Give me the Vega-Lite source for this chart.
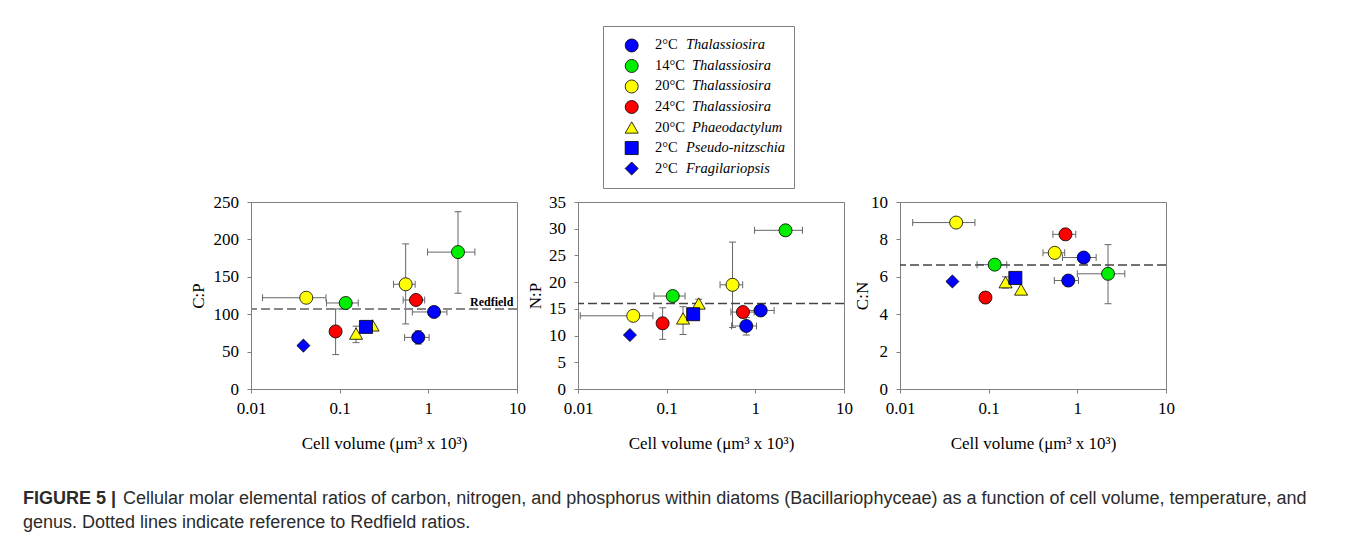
{
  "$schema": "https://vega.github.io/schema/vega-lite/v6.json",
  "background": "white",
  "padding": {"left": 23, "top": 25, "right": 0, "bottom": 0},
  "config": {
    "view": {"stroke": "#808080", "strokeWidth": 1},
    "font": "Liberation Serif",
    "axis": {"grid": false, "labelFlush": false, "domainColor": "#808080", "tickColor": "#808080", "tickSize": 4, "labelFont": "Liberation Serif", "labelFontSize": 17, "labelColor": "#000000", "titleFont": "Liberation Serif", "titleFontSize": 17, "titleFontWeight": "normal", "titleColor": "#000000"},
    "axisX": {"labelPadding": 7.5, "titlePadding": 19},
    "axisY": {"labelPadding": 8.6}
  },
  "datasets": {
    "pts": [
      {"panel":"CP","series":"T2","x":1.16,"y":103,"xlo":0.66,"xhi":1.62},
      {"panel":"CP","series":"T2","x":0.77,"y":69,"xlo":0.54,"xhi":1.02,"ylo":60,"yhi":78},
      {"panel":"CP","series":"T14","x":0.117,"y":115,"xlo":0.071,"xhi":0.162},
      {"panel":"CP","series":"T14","x":2.16,"y":183,"xlo":0.98,"xhi":3.35,"ylo":128,"yhi":237},
      {"panel":"CP","series":"T20","x":0.042,"y":122,"xlo":0.0135,"xhi":0.07},
      {"panel":"CP","series":"T20","x":0.555,"y":140,"xlo":0.405,"xhi":0.71,"ylo":87,"yhi":194},
      {"panel":"CP","series":"T24","x":0.09,"y":77,"ylo":46,"yhi":107},
      {"panel":"CP","series":"T24","x":0.726,"y":119,"xlo":0.52,"xhi":0.91},
      {"panel":"CP","series":"P20","x":0.153,"y":74,"ylo":62,"yhi":84},
      {"panel":"CP","series":"P20","x":0.235,"y":85},
      {"panel":"CP","series":"PN2","x":0.198,"y":83},
      {"panel":"CP","series":"F2","x":0.039,"y":58},
      {"panel":"NP","series":"T2","x":1.15,"y":14.7,"xlo":0.66,"xhi":1.63},
      {"panel":"NP","series":"T2","x":0.79,"y":11.8,"xlo":0.54,"xhi":1.03,"ylo":10.1,"yhi":13.4},
      {"panel":"NP","series":"T14","x":0.117,"y":17.4,"xlo":0.072,"xhi":0.161},
      {"panel":"NP","series":"T14","x":2.19,"y":29.7,"xlo":0.98,"xhi":3.4},
      {"panel":"NP","series":"T20","x":0.042,"y":13.7,"xlo":0.0106,"xhi":0.07},
      {"panel":"NP","series":"T20","x":0.553,"y":19.5,"xlo":0.4,"xhi":0.72,"ylo":11.5,"yhi":27.5},
      {"panel":"NP","series":"T24","x":0.09,"y":12.3,"ylo":9.3,"yhi":15.2},
      {"panel":"NP","series":"T24","x":0.725,"y":14.4,"xlo":0.53,"xhi":0.97},
      {"panel":"NP","series":"P20","x":0.153,"y":13.2,"ylo":10.2,"yhi":15.4},
      {"panel":"NP","series":"P20","x":0.23,"y":16.0,"ylo":15.2,"yhi":16.8},
      {"panel":"NP","series":"PN2","x":0.199,"y":14.0},
      {"panel":"NP","series":"F2","x":0.0385,"y":10.1},
      {"panel":"CN","series":"T2","x":1.18,"y":7.03,"xlo":0.68,"xhi":1.63},
      {"panel":"CN","series":"T2","x":0.79,"y":5.8,"xlo":0.55,"xhi":1.03},
      {"panel":"CN","series":"T14","x":0.117,"y":6.65,"xlo":0.074,"xhi":0.16},
      {"panel":"CN","series":"T14","x":2.22,"y":6.16,"xlo":1.0,"xhi":3.43,"ylo":4.56,"yhi":7.72},
      {"panel":"CN","series":"T20","x":0.043,"y":8.9,"xlo":0.0139,"xhi":0.07},
      {"panel":"CN","series":"T20","x":0.556,"y":7.28,"xlo":0.41,"xhi":0.72},
      {"panel":"CN","series":"T24","x":0.092,"y":4.89},
      {"panel":"CN","series":"T24","x":0.735,"y":8.27,"xlo":0.53,"xhi":0.96},
      {"panel":"CN","series":"P20","x":0.155,"y":5.71,"ylo":5.4,"yhi":6.0},
      {"panel":"CN","series":"P20","x":0.232,"y":5.32},
      {"panel":"CN","series":"PN2","x":0.2,"y":5.94},
      {"panel":"CN","series":"F2","x":0.039,"y":5.75}
    ],
    "redfield": [
      {"panel":"CP","ratio":107,"label":"Redfield"},
      {"panel":"NP","ratio":16},
      {"panel":"CN","ratio":6.63}
    ],
    "legend": [
      {"order":1,"series":"T2","temp":"2°C","genus":"Thalassiosira"},
      {"order":2,"series":"T14","temp":"14°C","genus":"Thalassiosira"},
      {"order":3,"series":"T20","temp":"20°C","genus":"Thalassiosira"},
      {"order":4,"series":"T24","temp":"24°C","genus":"Thalassiosira"},
      {"order":5,"series":"P20","temp":"20°C","genus":"Phaeodactylum"},
      {"order":6,"series":"PN2","temp":"2°C","genus":"Pseudo-nitzschia"},
      {"order":7,"series":"F2","temp":"2°C","genus":"Fragilariopsis"}
    ],
    "caption": [
      {"part":"label","text":"FIGURE 5 |"},
      {"part":"line1","text":"Cellular molar elemental ratios of carbon, nitrogen, and phosphorus within diatoms (Bacillariophyceae) as a function of cell volume, temperature, and"},
      {"part":"line2","text":"genus. Dotted lines indicate reference to Redfield ratios."}
    ]
  },
  "spacing": 3,
  "vconcat": [
    {
      "spacing": 8,
      "hconcat": [
        {"width": 571, "height": 10, "view": {"stroke": null, "fill": "white"}, "data": {"values": []}, "mark": "point"},
        {
          "width": 191, "height": 162,
          "data": {"name": "legend"},
          "encoding": {"y": {"field": "order", "type": "ordinal", "scale": {"type": "point", "padding": 0.95}, "axis": null}},
          "layer": [
            {"mark": {"type": "point", "filled": true, "opacity": 1, "stroke": "#000000", "strokeWidth": 0.8},
             "encoding": {"x": {"value": 28.7},
               "fill": {"field": "series", "type": "nominal", "scale": {"domain": ["T2","T14","T20","T24","P20","PN2","F2"], "range": ["#0000ff","#00ee00","#ffff00","#ff0000","#ffff00","#0000ff","#0000ff"]}, "legend": null},
               "shape": {"field": "series", "type": "nominal", "scale": {"domain": ["T2","T14","T20","T24","P20","PN2","F2"], "range": ["circle","circle","circle","circle","triangle-up","square","diamond"]}, "legend": null},
               "size": {"field": "series", "type": "nominal", "scale": {"domain": ["T2","T14","T20","T24","P20","PN2","F2"], "range": [170,170,170,170,180,150,200]}, "legend": null}}},
            {"mark": {"type": "text", "align": "left", "baseline": "middle", "font": "Liberation Serif", "fontSize": 14.5, "color": "#000000"},
             "encoding": {"x": {"value": 52}, "text": {"field": "temp"}}},
            {"transform": [{"filter": "length(datum.temp) == 3"}],
             "mark": {"type": "text", "align": "left", "baseline": "middle", "font": "Liberation Serif", "fontSize": 14.5, "fontStyle": "italic", "color": "#000000"},
             "encoding": {"x": {"value": 83}, "text": {"field": "genus"}}},
            {"transform": [{"filter": "length(datum.temp) == 4"}],
             "mark": {"type": "text", "align": "left", "baseline": "middle", "font": "Liberation Serif", "fontSize": 14.5, "fontStyle": "italic", "color": "#000000"},
             "encoding": {"x": {"value": 89}, "text": {"field": "genus"}}}
          ]
        }
      ]
    },
    {
      "spacing": 0,
      "hconcat": [
        {"width": 166, "height": 10, "view": {"stroke": null, "fill": "white"}, "data": {"values": []}, "mark": "point"},
        {
          "width": 266, "height": 187,
          "data": {"name": "pts"},
          "transform": [{"filter": "datum.panel == 'CP'"}],
          "layer": [
            {"transform": [{"filter": "isValid(datum.xlo)"}],
             "mark": {"type": "rule", "color": "#666666", "strokeWidth": 1},
             "encoding": {"x": {"field": "xlo", "type": "quantitative", "scale": {"type": "log", "domain": [0.01, 10]}, "axis": {"values": [0.01, 0.1, 1, 10], "format": "~g", "title": "Cell volume (μm³ x 10³)"}},
               "x2": {"field": "xhi"},
               "y": {"field": "y", "type": "quantitative", "scale": {"domain": [0, 250], "nice": false}, "axis": {"values": [0, 50, 100, 150, 200, 250], "title": "C:P", "titlePadding": 5}}}},
            {"transform": [{"filter": "isValid(datum.xlo)"}],
             "mark": {"type": "tick", "orient": "vertical", "size": 7, "thickness": 1, "color": "#666666", "opacity": 1},
             "encoding": {"x": {"field": "xlo", "type": "quantitative", "scale": {"type": "log", "domain": [0.01, 10]}, "axis": {"values": [0.01, 0.1, 1, 10], "format": "~g", "title": "Cell volume (μm³ x 10³)"}},
               "y": {"field": "y", "type": "quantitative", "scale": {"domain": [0, 250], "nice": false}, "axis": {"values": [0, 50, 100, 150, 200, 250], "title": "C:P", "titlePadding": 5}}}},
            {"transform": [{"filter": "isValid(datum.xlo)"}],
             "mark": {"type": "tick", "orient": "vertical", "size": 7, "thickness": 1, "color": "#666666", "opacity": 1},
             "encoding": {"x": {"field": "xhi", "type": "quantitative", "scale": {"type": "log", "domain": [0.01, 10]}, "axis": {"values": [0.01, 0.1, 1, 10], "format": "~g", "title": "Cell volume (μm³ x 10³)"}},
               "y": {"field": "y", "type": "quantitative", "scale": {"domain": [0, 250], "nice": false}, "axis": {"values": [0, 50, 100, 150, 200, 250], "title": "C:P", "titlePadding": 5}}}},
            {"transform": [{"filter": "isValid(datum.ylo)"}],
             "mark": {"type": "rule", "color": "#666666", "strokeWidth": 1},
             "encoding": {"x": {"field": "x", "type": "quantitative", "scale": {"type": "log", "domain": [0.01, 10]}, "axis": {"values": [0.01, 0.1, 1, 10], "format": "~g", "title": "Cell volume (μm³ x 10³)"}},
               "y": {"field": "ylo", "type": "quantitative", "scale": {"domain": [0, 250], "nice": false}, "axis": {"values": [0, 50, 100, 150, 200, 250], "title": "C:P", "titlePadding": 5}},
               "y2": {"field": "yhi"}}},
            {"transform": [{"filter": "isValid(datum.ylo)"}],
             "mark": {"type": "tick", "orient": "horizontal", "size": 7, "thickness": 1, "color": "#666666", "opacity": 1},
             "encoding": {"x": {"field": "x", "type": "quantitative", "scale": {"type": "log", "domain": [0.01, 10]}, "axis": {"values": [0.01, 0.1, 1, 10], "format": "~g", "title": "Cell volume (μm³ x 10³)"}},
               "y": {"field": "ylo", "type": "quantitative", "scale": {"domain": [0, 250], "nice": false}, "axis": {"values": [0, 50, 100, 150, 200, 250], "title": "C:P", "titlePadding": 5}}}},
            {"transform": [{"filter": "isValid(datum.ylo)"}],
             "mark": {"type": "tick", "orient": "horizontal", "size": 7, "thickness": 1, "color": "#666666", "opacity": 1},
             "encoding": {"x": {"field": "x", "type": "quantitative", "scale": {"type": "log", "domain": [0.01, 10]}, "axis": {"values": [0.01, 0.1, 1, 10], "format": "~g", "title": "Cell volume (μm³ x 10³)"}},
               "y": {"field": "yhi", "type": "quantitative", "scale": {"domain": [0, 250], "nice": false}, "axis": {"values": [0, 50, 100, 150, 200, 250], "title": "C:P", "titlePadding": 5}}}},
            {"data": {"name": "redfield"}, "transform": [{"filter": "datum.panel == 'CP'"}],
             "mark": {"type": "rule", "color": "#888888", "strokeWidth": 2, "strokeDash": [9, 4]},
             "encoding": {"y": {"field": "ratio", "type": "quantitative", "scale": {"domain": [0, 250], "nice": false}, "axis": {"values": [0, 50, 100, 150, 200, 250], "title": "C:P", "titlePadding": 5}}}},
            {"data": {"name": "redfield"}, "transform": [{"filter": "datum.panel == 'CP'"}],
             "mark": {"type": "text", "align": "right", "baseline": "alphabetic", "dy": -3, "font": "Liberation Serif", "fontWeight": "bold", "fontSize": 12, "color": "#000000"},
             "encoding": {"x": {"datum": 9.1, "type": "quantitative", "scale": {"type": "log", "domain": [0.01, 10]}, "axis": {"values": [0.01, 0.1, 1, 10], "format": "~g", "title": "Cell volume (μm³ x 10³)"}},
               "y": {"field": "ratio", "type": "quantitative", "scale": {"domain": [0, 250], "nice": false}, "axis": {"values": [0, 50, 100, 150, 200, 250], "title": "C:P", "titlePadding": 5}},
               "text": {"field": "label"}}},
            {"mark": {"type": "point", "filled": true, "opacity": 1, "stroke": "#000000", "strokeWidth": 0.8},
             "encoding": {"x": {"field": "x", "type": "quantitative", "scale": {"type": "log", "domain": [0.01, 10]}, "axis": {"values": [0.01, 0.1, 1, 10], "format": "~g", "title": "Cell volume (μm³ x 10³)"}},
               "y": {"field": "y", "type": "quantitative", "scale": {"domain": [0, 250], "nice": false}, "axis": {"values": [0, 50, 100, 150, 200, 250], "title": "C:P", "titlePadding": 5}},
               "fill": {"field": "series", "type": "nominal", "scale": {"domain": ["T2","T14","T20","T24","P20","PN2","F2"], "range": ["#0000ff","#00ee00","#ffff00","#ff0000","#ffff00","#0000ff","#0000ff"]}, "legend": null},
               "shape": {"field": "series", "type": "nominal", "scale": {"domain": ["T2","T14","T20","T24","P20","PN2","F2"], "range": ["circle","circle","circle","circle","triangle-up","square","diamond"]}, "legend": null},
               "size": {"field": "series", "type": "nominal", "scale": {"domain": ["T2","T14","T20","T24","P20","PN2","F2"], "range": [170,170,170,170,180,150,200]}, "legend": null}}}
          ]
        },
        {
          "width": 266, "height": 187,
          "data": {"name": "pts"},
          "transform": [{"filter": "datum.panel == 'NP'"}],
          "layer": [
            {"transform": [{"filter": "isValid(datum.xlo)"}],
             "mark": {"type": "rule", "color": "#666666", "strokeWidth": 1},
             "encoding": {"x": {"field": "xlo", "type": "quantitative", "scale": {"type": "log", "domain": [0.01, 10]}, "axis": {"values": [0.01, 0.1, 1, 10], "format": "~g", "title": "Cell volume (μm³ x 10³)"}},
               "x2": {"field": "xhi"},
               "y": {"field": "y", "type": "quantitative", "scale": {"domain": [0, 35], "nice": false}, "axis": {"values": [0, 5, 10, 15, 20, 25, 30, 35], "title": "N:P", "titlePadding": 3.5}}}},
            {"transform": [{"filter": "isValid(datum.xlo)"}],
             "mark": {"type": "tick", "orient": "vertical", "size": 7, "thickness": 1, "color": "#666666", "opacity": 1},
             "encoding": {"x": {"field": "xlo", "type": "quantitative", "scale": {"type": "log", "domain": [0.01, 10]}, "axis": {"values": [0.01, 0.1, 1, 10], "format": "~g", "title": "Cell volume (μm³ x 10³)"}},
               "y": {"field": "y", "type": "quantitative", "scale": {"domain": [0, 35], "nice": false}, "axis": {"values": [0, 5, 10, 15, 20, 25, 30, 35], "title": "N:P", "titlePadding": 3.5}}}},
            {"transform": [{"filter": "isValid(datum.xlo)"}],
             "mark": {"type": "tick", "orient": "vertical", "size": 7, "thickness": 1, "color": "#666666", "opacity": 1},
             "encoding": {"x": {"field": "xhi", "type": "quantitative", "scale": {"type": "log", "domain": [0.01, 10]}, "axis": {"values": [0.01, 0.1, 1, 10], "format": "~g", "title": "Cell volume (μm³ x 10³)"}},
               "y": {"field": "y", "type": "quantitative", "scale": {"domain": [0, 35], "nice": false}, "axis": {"values": [0, 5, 10, 15, 20, 25, 30, 35], "title": "N:P", "titlePadding": 3.5}}}},
            {"transform": [{"filter": "isValid(datum.ylo)"}],
             "mark": {"type": "rule", "color": "#666666", "strokeWidth": 1},
             "encoding": {"x": {"field": "x", "type": "quantitative", "scale": {"type": "log", "domain": [0.01, 10]}, "axis": {"values": [0.01, 0.1, 1, 10], "format": "~g", "title": "Cell volume (μm³ x 10³)"}},
               "y": {"field": "ylo", "type": "quantitative", "scale": {"domain": [0, 35], "nice": false}, "axis": {"values": [0, 5, 10, 15, 20, 25, 30, 35], "title": "N:P", "titlePadding": 3.5}},
               "y2": {"field": "yhi"}}},
            {"transform": [{"filter": "isValid(datum.ylo)"}],
             "mark": {"type": "tick", "orient": "horizontal", "size": 7, "thickness": 1, "color": "#666666", "opacity": 1},
             "encoding": {"x": {"field": "x", "type": "quantitative", "scale": {"type": "log", "domain": [0.01, 10]}, "axis": {"values": [0.01, 0.1, 1, 10], "format": "~g", "title": "Cell volume (μm³ x 10³)"}},
               "y": {"field": "ylo", "type": "quantitative", "scale": {"domain": [0, 35], "nice": false}, "axis": {"values": [0, 5, 10, 15, 20, 25, 30, 35], "title": "N:P", "titlePadding": 3.5}}}},
            {"transform": [{"filter": "isValid(datum.ylo)"}],
             "mark": {"type": "tick", "orient": "horizontal", "size": 7, "thickness": 1, "color": "#666666", "opacity": 1},
             "encoding": {"x": {"field": "x", "type": "quantitative", "scale": {"type": "log", "domain": [0.01, 10]}, "axis": {"values": [0.01, 0.1, 1, 10], "format": "~g", "title": "Cell volume (μm³ x 10³)"}},
               "y": {"field": "yhi", "type": "quantitative", "scale": {"domain": [0, 35], "nice": false}, "axis": {"values": [0, 5, 10, 15, 20, 25, 30, 35], "title": "N:P", "titlePadding": 3.5}}}},
            {"data": {"name": "redfield"}, "transform": [{"filter": "datum.panel == 'NP'"}],
             "mark": {"type": "rule", "color": "#444444", "strokeWidth": 1.3, "strokeDash": [9, 4]},
             "encoding": {"y": {"field": "ratio", "type": "quantitative", "scale": {"domain": [0, 35], "nice": false}, "axis": {"values": [0, 5, 10, 15, 20, 25, 30, 35], "title": "N:P", "titlePadding": 3.5}}}},
            {"mark": {"type": "point", "filled": true, "opacity": 1, "stroke": "#000000", "strokeWidth": 0.8},
             "encoding": {"x": {"field": "x", "type": "quantitative", "scale": {"type": "log", "domain": [0.01, 10]}, "axis": {"values": [0.01, 0.1, 1, 10], "format": "~g", "title": "Cell volume (μm³ x 10³)"}},
               "y": {"field": "y", "type": "quantitative", "scale": {"domain": [0, 35], "nice": false}, "axis": {"values": [0, 5, 10, 15, 20, 25, 30, 35], "title": "N:P", "titlePadding": 3.5}},
               "fill": {"field": "series", "type": "nominal", "scale": {"domain": ["T2","T14","T20","T24","P20","PN2","F2"], "range": ["#0000ff","#00ee00","#ffff00","#ff0000","#ffff00","#0000ff","#0000ff"]}, "legend": null},
               "shape": {"field": "series", "type": "nominal", "scale": {"domain": ["T2","T14","T20","T24","P20","PN2","F2"], "range": ["circle","circle","circle","circle","triangle-up","square","diamond"]}, "legend": null},
               "size": {"field": "series", "type": "nominal", "scale": {"domain": ["T2","T14","T20","T24","P20","PN2","F2"], "range": [170,170,170,170,180,150,200]}, "legend": null}}}
          ]
        },
        {
          "width": 266, "height": 187,
          "data": {"name": "pts"},
          "transform": [{"filter": "datum.panel == 'CN'"}],
          "layer": [
            {"transform": [{"filter": "isValid(datum.xlo)"}],
             "mark": {"type": "rule", "color": "#666666", "strokeWidth": 1},
             "encoding": {"x": {"field": "xlo", "type": "quantitative", "scale": {"type": "log", "domain": [0.01, 10]}, "axis": {"values": [0.01, 0.1, 1, 10], "format": "~g", "title": "Cell volume (μm³ x 10³)"}},
               "x2": {"field": "xhi"},
               "y": {"field": "y", "type": "quantitative", "scale": {"domain": [0, 10], "nice": false}, "axis": {"values": [0, 2, 4, 6, 8, 10], "title": "C:N", "titlePadding": -1.5}}}},
            {"transform": [{"filter": "isValid(datum.xlo)"}],
             "mark": {"type": "tick", "orient": "vertical", "size": 7, "thickness": 1, "color": "#666666", "opacity": 1},
             "encoding": {"x": {"field": "xlo", "type": "quantitative", "scale": {"type": "log", "domain": [0.01, 10]}, "axis": {"values": [0.01, 0.1, 1, 10], "format": "~g", "title": "Cell volume (μm³ x 10³)"}},
               "y": {"field": "y", "type": "quantitative", "scale": {"domain": [0, 10], "nice": false}, "axis": {"values": [0, 2, 4, 6, 8, 10], "title": "C:N", "titlePadding": -1.5}}}},
            {"transform": [{"filter": "isValid(datum.xlo)"}],
             "mark": {"type": "tick", "orient": "vertical", "size": 7, "thickness": 1, "color": "#666666", "opacity": 1},
             "encoding": {"x": {"field": "xhi", "type": "quantitative", "scale": {"type": "log", "domain": [0.01, 10]}, "axis": {"values": [0.01, 0.1, 1, 10], "format": "~g", "title": "Cell volume (μm³ x 10³)"}},
               "y": {"field": "y", "type": "quantitative", "scale": {"domain": [0, 10], "nice": false}, "axis": {"values": [0, 2, 4, 6, 8, 10], "title": "C:N", "titlePadding": -1.5}}}},
            {"transform": [{"filter": "isValid(datum.ylo)"}],
             "mark": {"type": "rule", "color": "#666666", "strokeWidth": 1},
             "encoding": {"x": {"field": "x", "type": "quantitative", "scale": {"type": "log", "domain": [0.01, 10]}, "axis": {"values": [0.01, 0.1, 1, 10], "format": "~g", "title": "Cell volume (μm³ x 10³)"}},
               "y": {"field": "ylo", "type": "quantitative", "scale": {"domain": [0, 10], "nice": false}, "axis": {"values": [0, 2, 4, 6, 8, 10], "title": "C:N", "titlePadding": -1.5}},
               "y2": {"field": "yhi"}}},
            {"transform": [{"filter": "isValid(datum.ylo)"}],
             "mark": {"type": "tick", "orient": "horizontal", "size": 7, "thickness": 1, "color": "#666666", "opacity": 1},
             "encoding": {"x": {"field": "x", "type": "quantitative", "scale": {"type": "log", "domain": [0.01, 10]}, "axis": {"values": [0.01, 0.1, 1, 10], "format": "~g", "title": "Cell volume (μm³ x 10³)"}},
               "y": {"field": "ylo", "type": "quantitative", "scale": {"domain": [0, 10], "nice": false}, "axis": {"values": [0, 2, 4, 6, 8, 10], "title": "C:N", "titlePadding": -1.5}}}},
            {"transform": [{"filter": "isValid(datum.ylo)"}],
             "mark": {"type": "tick", "orient": "horizontal", "size": 7, "thickness": 1, "color": "#666666", "opacity": 1},
             "encoding": {"x": {"field": "x", "type": "quantitative", "scale": {"type": "log", "domain": [0.01, 10]}, "axis": {"values": [0.01, 0.1, 1, 10], "format": "~g", "title": "Cell volume (μm³ x 10³)"}},
               "y": {"field": "yhi", "type": "quantitative", "scale": {"domain": [0, 10], "nice": false}, "axis": {"values": [0, 2, 4, 6, 8, 10], "title": "C:N", "titlePadding": -1.5}}}},
            {"data": {"name": "redfield"}, "transform": [{"filter": "datum.panel == 'CN'"}],
             "mark": {"type": "rule", "color": "#444444", "strokeWidth": 1.3, "strokeDash": [9, 4]},
             "encoding": {"y": {"field": "ratio", "type": "quantitative", "scale": {"domain": [0, 10], "nice": false}, "axis": {"values": [0, 2, 4, 6, 8, 10], "title": "C:N", "titlePadding": -1.5}}}},
            {"mark": {"type": "point", "filled": true, "opacity": 1, "stroke": "#000000", "strokeWidth": 0.8},
             "encoding": {"x": {"field": "x", "type": "quantitative", "scale": {"type": "log", "domain": [0.01, 10]}, "axis": {"values": [0.01, 0.1, 1, 10], "format": "~g", "title": "Cell volume (μm³ x 10³)"}},
               "y": {"field": "y", "type": "quantitative", "scale": {"domain": [0, 10], "nice": false}, "axis": {"values": [0, 2, 4, 6, 8, 10], "title": "C:N", "titlePadding": -1.5}},
               "fill": {"field": "series", "type": "nominal", "scale": {"domain": ["T2","T14","T20","T24","P20","PN2","F2"], "range": ["#0000ff","#00ee00","#ffff00","#ff0000","#ffff00","#0000ff","#0000ff"]}, "legend": null},
               "shape": {"field": "series", "type": "nominal", "scale": {"domain": ["T2","T14","T20","T24","P20","PN2","F2"], "range": ["circle","circle","circle","circle","triangle-up","square","diamond"]}, "legend": null},
               "size": {"field": "series", "type": "nominal", "scale": {"domain": ["T2","T14","T20","T24","P20","PN2","F2"], "range": [170,170,170,170,180,150,200]}, "legend": null}}}
          ]
        }
      ]
    },
    {
      "width": 1300, "height": 80,
      "view": {"stroke": null, "fill": "white"},
      "data": {"name": "caption"},
      "layer": [
        {"transform": [{"filter": "datum.part == 'label'"}],
         "mark": {"type": "text", "align": "left", "baseline": "alphabetic", "font": "Liberation Sans", "fontSize": 18, "fontWeight": "bold", "color": "#2b2b2b"},
         "encoding": {"x": {"value": 0}, "y": {"value": 49}, "text": {"field": "text"}}},
        {"transform": [{"filter": "datum.part == 'line1'"}],
         "mark": {"type": "text", "align": "left", "baseline": "alphabetic", "font": "Liberation Sans", "fontSize": 18, "color": "#2b2b2b"},
         "encoding": {"x": {"value": 100}, "y": {"value": 49}, "text": {"field": "text"}}},
        {"transform": [{"filter": "datum.part == 'line2'"}],
         "mark": {"type": "text", "align": "left", "baseline": "alphabetic", "font": "Liberation Sans", "fontSize": 18, "color": "#2b2b2b"},
         "encoding": {"x": {"value": 0}, "y": {"value": 73}, "text": {"field": "text"}}}
      ]
    }
  ]
}
